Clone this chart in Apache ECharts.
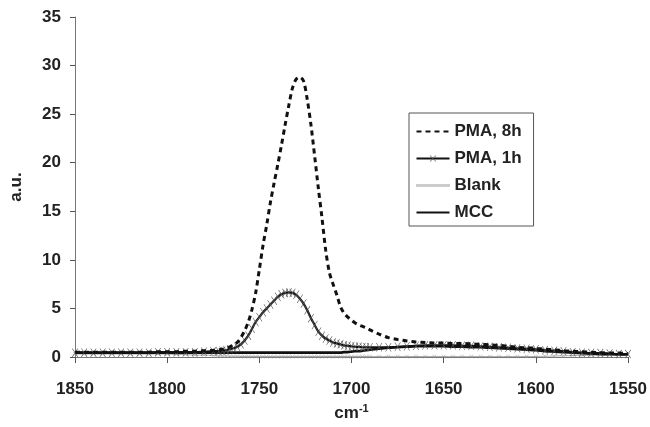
<!DOCTYPE html>
<html>
<head>
<meta charset="utf-8">
<script src="https://cdn.jsdelivr.net/npm/echarts@6/dist/echarts.min.js"></script>
<style>
  html, body { margin: 0; padding: 0; background: #fff; }
  #chart { width: 650px; height: 427px; }
</style>
</head>
<body>
<div id="chart"></div>
<script>
// Wavenumber grid (cm-1): coarse on the flat wings, 2 cm-1 steps across the carbonyl band
const wavenumbers = [
  1850, 1845, 1840, 1835, 1830, 1825, 1820, 1815, 1810, 1805, 1800, 1795, 1790, 1785, 1780, 1775,
  1772, 1770, 1768, 1766, 1764, 1762, 1760, 1758, 1756, 1754, 1752, 1750, 1748, 1746, 1744, 1742,
  1740, 1738, 1736, 1734, 1732, 1730, 1728, 1726, 1724, 1722, 1720, 1718, 1716, 1714, 1712, 1710,
  1708, 1706, 1704, 1702, 1700, 1698, 1696, 1694, 1692, 1690,
  1685, 1680, 1675, 1670, 1665, 1660, 1655, 1650, 1645, 1640, 1635, 1630, 1625, 1620, 1615, 1610,
  1605, 1600, 1595, 1590, 1585, 1580, 1575, 1570, 1565, 1560, 1555, 1550
];

const pma8h = [
  0.5, 0.5, 0.5, 0.5, 0.5, 0.5, 0.5, 0.5, 0.5, 0.55, 0.55, 0.55, 0.6, 0.6, 0.65, 0.7,
  0.75, 0.8, 0.9, 1.05, 1.25, 1.5, 2.0, 2.7, 3.6, 4.9, 6.6, 9.0, 11.5, 13.6, 15.9, 17.9,
  19.8, 21.8, 23.9, 25.9, 27.7, 28.6, 28.8, 28.4, 26.5, 23.9, 20.7, 17.4, 14.3, 11.0, 8.7, 7.5,
  6.4, 5.2, 4.5, 4.1, 3.8, 3.5, 3.3, 3.15, 3.0, 2.8,
  2.35, 2.0, 1.8, 1.65, 1.55, 1.5, 1.45, 1.45, 1.4, 1.4, 1.35, 1.3, 1.25, 1.2, 1.1, 1.0,
  0.95, 0.9, 0.8, 0.75, 0.65, 0.6, 0.55, 0.5, 0.45, 0.4, 0.4, 0.35
];

const pma1h = [
  0.45, 0.45, 0.45, 0.45, 0.45, 0.45, 0.45, 0.45, 0.45, 0.5, 0.5, 0.5, 0.5, 0.5, 0.55, 0.6,
  0.6, 0.65, 0.7, 0.8, 0.9, 1.05, 1.3, 1.7, 2.2, 2.9, 3.6, 4.1, 4.6, 5.0, 5.4, 5.8,
  6.2, 6.45, 6.6, 6.65, 6.6, 6.4, 6.0, 5.5, 4.8, 4.0, 3.3, 2.6, 2.2, 1.9, 1.7, 1.5,
  1.4, 1.3, 1.2, 1.15, 1.1, 1.05, 1.05, 1.0, 1.0, 1.0,
  1.0, 1.0, 1.05, 1.1, 1.15, 1.2, 1.2, 1.2, 1.2, 1.15, 1.15, 1.1, 1.05, 1.0, 0.95, 0.9,
  0.85, 0.8, 0.7, 0.65, 0.6, 0.5, 0.45, 0.4, 0.4, 0.35, 0.3, 0.3
];

const blank = [
  0.3, 0.3, 0.3, 0.3, 0.3, 0.3, 0.3, 0.3, 0.3, 0.3, 0.3, 0.25, 0.25, 0.2, 0.2, 0.15,
  0.1, 0.1, 0.1, 0.08, 0.08, 0.08, 0.06, 0.06, 0.06, 0.06, 0.05, 0.05, 0.05, 0.05, 0.05, 0.05,
  0.05, 0.05, 0.05, 0.05, 0.05, 0.05, 0.05, 0.05, 0.05, 0.05, 0.05, 0.05, 0.05, 0.05, 0.05, 0.05,
  0.05, 0.05, 0.05, 0.05, 0.05, 0.05, 0.05, 0.05, 0.05, 0.05,
  0.05, 0.05, 0.05, 0.05, 0.05, 0.05, 0.05, 0.05, 0.05, 0.05, 0.05, 0.05, 0.05, 0.05, 0.05, 0.05,
  0.05, 0.05, 0.08, 0.1, 0.12, 0.15, 0.15, 0.18, 0.2, 0.2, 0.2, 0.2
];

const mcc = [
  0.45, 0.45, 0.45, 0.45, 0.45, 0.45, 0.45, 0.45, 0.45, 0.45, 0.45, 0.45, 0.45, 0.45, 0.45, 0.45,
  0.45, 0.45, 0.45, 0.45, 0.45, 0.45, 0.45, 0.45, 0.45, 0.45, 0.45, 0.45, 0.45, 0.45, 0.45, 0.45,
  0.45, 0.45, 0.45, 0.45, 0.45, 0.45, 0.45, 0.45, 0.45, 0.45, 0.45, 0.45, 0.45, 0.45, 0.45, 0.45,
  0.45, 0.45, 0.5, 0.5, 0.55, 0.6, 0.6, 0.65, 0.7, 0.75,
  0.85, 0.95, 1.0, 1.05, 1.1, 1.1, 1.1, 1.1, 1.05, 1.05, 1.0, 1.0, 0.95, 0.9, 0.85, 0.8,
  0.75, 0.7, 0.6, 0.55, 0.5, 0.45, 0.4, 0.35, 0.3, 0.3, 0.25, 0.25
];

const seriesNames = ['PMA, 8h', 'PMA, 1h', 'Blank', 'MCC'];
const xTicks = { min: 1550, max: 1850, step: 50 };
const yTicks = { min: 0, max: 35, step: 5 };

const pairs = (ys) => wavenumbers.map((x, i) => [x, ys[i]]);

// thin diagonal cross used as the point marker
const crossPath = 'path://M0,0.6L0.6,0L5,4.4L9.4,0L10,0.6L5.6,5L10,9.4L9.4,10L5,5.6L0.6,10L0,9.4L4.4,5Z';

const font = 'Liberation Sans, Arial, Helvetica, sans-serif';
const hidden = { opacity: 0 };

const chart = echarts.init(document.getElementById('chart'), null, { renderer: 'canvas' });

chart.setOption({
  animation: false,
  backgroundColor: '#fff',
  grid: { left: 72, right: 22, top: 17, bottom: 65, containLabel: false },
  legend: {
    orient: 'vertical',
    left: 409,
    top: 113,
    data: [
      { name: seriesNames[0], itemStyle: hidden },
      { name: seriesNames[1] },
      { name: seriesNames[2], itemStyle: hidden, lineStyle: { color: '#999', width: 3, type: [1, 1] } },
      { name: seriesNames[3], itemStyle: hidden }
    ],
    backgroundColor: '#fff',
    borderColor: '#555',
    borderWidth: 1,
    padding: [10, 12, 5, 6],
    itemWidth: 33,
    itemHeight: 8,
    itemGap: 10,
    textStyle: { fontFamily: font, fontSize: 17, fontWeight: 'bold', color: '#222', lineHeight: 17 }
  },
  xAxis: {
    type: 'value',
    inverse: true,
    min: xTicks.min,
    max: xTicks.max,
    interval: xTicks.step,
    name: '{b|cm}{s|-1}',
    nameLocation: 'middle',
    nameGap: 46,
    nameTextStyle: {
      rich: {
        b: { fontFamily: font, fontSize: 17, fontWeight: 'bold', color: '#222' },
        s: { fontFamily: font, fontSize: 11, fontWeight: 'bold', color: '#222', verticalAlign: 'top', padding: [0, 0, 10, 0] }
      }
    },
    axisLine: { onZero: false, lineStyle: { color: '#777', width: 1 } },
    axisTick: { show: true, inside: false, length: 6, lineStyle: { color: '#555' } },
    axisLabel: { fontFamily: font, fontSize: 17, fontWeight: 'bold', color: '#222', margin: 24, formatter: (v) => String(v) },
    splitLine: { show: false }
  },
  yAxis: {
    type: 'value',
    min: yTicks.min,
    max: yTicks.max,
    interval: yTicks.step,
    name: 'a.u.',
    nameLocation: 'middle',
    nameGap: 50,
    nameTextStyle: { fontFamily: font, fontSize: 17, fontWeight: 'bold', color: '#222' },
    axisLine: { show: true, lineStyle: { color: '#777', width: 1 } },
    axisTick: { show: true, inside: false, length: 5, lineStyle: { color: '#555' } },
    axisLabel: { fontFamily: font, fontSize: 17, fontWeight: 'bold', color: '#222', margin: 14 },
    splitLine: { show: false }
  },
  series: [
    {
      name: seriesNames[0],
      type: 'line',
      data: pairs(pma8h),
      smooth: 0.3,
      symbol: 'circle',
      showSymbol: false,
      z: 4,
      itemStyle: { color: '#111' },
      lineStyle: { color: '#111', width: 3, type: [5, 4] }
    },
    {
      name: seriesNames[1],
      type: 'line',
      data: pairs(pma1h),
      smooth: 0.3,
      symbol: crossPath,
      symbolSize: [6, 9],
      showAllSymbol: true,
      z: 3,
      itemStyle: { color: '#555' },
      lineStyle: { color: '#111', width: 2.2 }
    },
    {
      name: seriesNames[2],
      type: 'line',
      data: pairs(blank),
      smooth: 0.3,
      symbol: crossPath,
      symbolSize: 4,
      showAllSymbol: true,
      z: 2,
      itemStyle: { color: '#999' },
      lineStyle: { color: '#aaa', width: 1 }
    },
    {
      name: seriesNames[3],
      type: 'line',
      data: pairs(mcc),
      smooth: 0.3,
      symbol: 'circle',
      showSymbol: false,
      z: 2,
      itemStyle: { color: '#111' },
      lineStyle: { color: '#111', width: 2.6 }
    }
  ]
});
</script>
</body>
</html>
